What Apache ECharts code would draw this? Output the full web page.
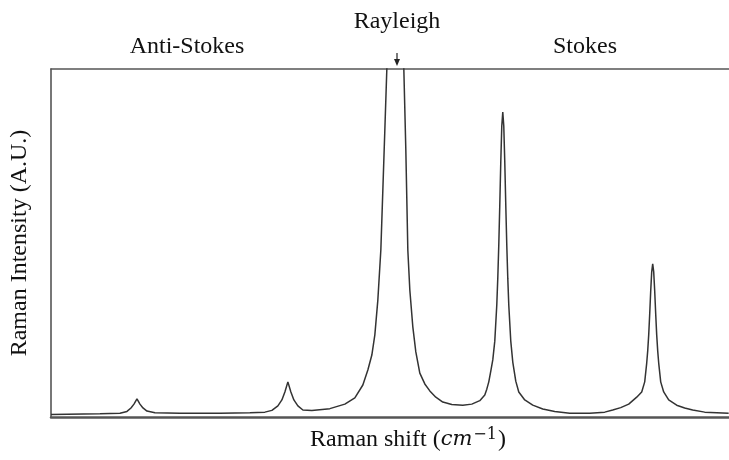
<!DOCTYPE html>
<html>
<head>
<meta charset="utf-8">
<script src="https://cdn.jsdelivr.net/npm/echarts@6/dist/echarts.min.js"></script>
<style>
  html, body { margin: 0; padding: 0; background: #fff; }
  #chart { width: 729px; height: 460px; }
</style>
</head>
<body>
<div id="chart"></div>
<script>
// Raman shift (cm^-1, Rayleigh line at 0) and intensity (arbitrary units) of the spectrum trace
const shift = [
  -1035, -888, -828, -807, -795, -786, -777, -768, -759, -747, -723, -648, -528, -438,
  -393, -372, -354, -342, -333, -324, -315, -306, -294, -279, -252, -198, -153, -123,
  -99, -84, -72, -63, -54, -45, -39, -33, -27, -3, 24, 30, 36, 42, 51, 60, 72, 87,
  102, 120, 141, 168, 201, 228, 252, 267, 273, 279, 285, 291, 297, 303, 306, 309, 312,
  315, 318, 321, 324, 327, 330, 333, 336, 339, 345, 351, 360, 369, 387, 411, 441, 477, 522,
  582, 627, 651, 675, 699, 723, 738, 747, 753, 756, 759, 762, 765, 768, 771,
  774, 777, 780, 783, 786, 789, 795, 804, 819, 843, 867, 891, 927, 999
];
const intensity = [
  0.7, 0.9, 1.1, 1.6, 2.6, 3.7, 5.2, 3.7, 2.6, 1.7, 1.2, 1.1, 1.1, 1.2,
  1.4, 1.9, 3.2, 4.9, 7.2, 10.1, 7.2, 4.9, 3.2, 2.0, 1.9, 2.4, 3.7, 5.5,
  9.2, 13.5, 17.8, 23.6, 33.6, 48.0, 65.2, 82.5, 100, 177.3, 100, 76.7, 48.0, 36.5, 25.9, 18.7, 12.6, 9.5,
  7.5, 5.7, 4.3, 3.6, 3.4, 3.7, 4.7, 6.3, 8.0, 10.1, 13.2, 16.4, 21.8, 32.2, 39.9, 49.4, 60.9,
  73.3, 83.6, 87.6, 83.6, 73.3, 60.9, 49.4, 39.9, 32.2, 21.8, 15.8, 10.3, 7.2, 4.9, 3.4, 2.3, 1.6, 1.1,
  1.1, 1.4, 2.0, 2.7, 3.7, 5.7, 7.2, 10.1, 15.5, 19.0, 23.6, 29.6, 36.2, 41.7, 44.0,
  41.7, 36.2, 29.6, 23.6, 19.0, 15.5, 10.1, 7.2, 4.9, 3.4, 2.6, 2.0, 1.4, 1.1
];

// Region labels above the plot
const regionLabels = ['Anti-Stokes', 'Rayleigh', 'Stokes'];
const xTitle = 'Raman shift (';
const yTitle = 'Raman Intensity (A.U.)';

const points = shift.map((s, i) => [s, intensity[i]]);

const chart = echarts.init(document.getElementById('chart'), null, { renderer: 'canvas' });
const serif = '"Liberation Serif", "Times New Roman", serif';
const mathFont = '"DejaVu Serif", serif';
const ink = '#333';
const frame = '#555';
const textColor = '#111';
const fontSize = 24;

chart.setOption({
  animation: false,
  backgroundColor: '#fff',
  grid: { left: 51, right: 0, top: 69, bottom: 43 },
  xAxis: [
    {
      type: 'value', min: -1035, max: 1000, position: 'bottom',
      axisLine: { show: true, onZero: false, lineStyle: { color: frame, width: 2.5 } },
      axisTick: { show: false }, axisLabel: { show: false }, splitLine: { show: false }
    },
    {
      type: 'value', min: -1035, max: 1000, position: 'top',
      axisLine: { show: true, onZero: false, lineStyle: { color: frame, width: 1.6 } },
      axisTick: { show: false }, axisLabel: { show: false }, splitLine: { show: false }
    }
  ],
  yAxis: {
    type: 'value', min: 0, max: 100, position: 'left',
    axisLine: { show: true, onZero: false, lineStyle: { color: frame, width: 1.6 } },
    axisTick: { show: false }, axisLabel: { show: false }, splitLine: { show: false }
  },
  series: [{
    type: 'line',
    xAxisIndex: 0,
    data: points,
    showSymbol: false,
    symbol: 'none',
    clip: true,
    lineStyle: { color: ink, width: 1.5 }
  }],
  graphic: [
    {
      type: 'text',
      style: {
        text: regionLabels[0], x: 187, y: 47, align: 'center', verticalAlign: 'middle',
        font: fontSize + 'px ' + serif, fill: textColor
      }
    },
    {
      type: 'text',
      style: {
        text: regionLabels[1], x: 397, y: 22, align: 'center', verticalAlign: 'middle',
        font: fontSize + 'px ' + serif, fill: textColor
      }
    },
    {
      type: 'text',
      style: {
        text: regionLabels[2], x: 585, y: 47, align: 'center', verticalAlign: 'middle',
        font: fontSize + 'px ' + serif, fill: textColor
      }
    },
    // arrow pointing at the Rayleigh line
    {
      type: 'line',
      shape: { x1: 397, y1: 53, x2: 397, y2: 60 },
      style: { stroke: '#222', lineWidth: 1.2 }
    },
    {
      type: 'polygon',
      shape: { points: [[394, 59], [400, 59], [397, 66]] },
      style: { fill: '#222' }
    },
    {
      type: 'text',
      style: {
        text: '{t|' + xTitle + '}{m|cm}{s|−1}{t|)}',
        x: 408, y: 440, align: 'center', verticalAlign: 'middle',
        rich: {
          t: { font: fontSize + 'px ' + serif, fill: textColor },
          m: { font: 'italic 21px ' + mathFont, fill: textColor },
          s: { font: '16px ' + mathFont, fill: textColor, padding: [0, 1, 10, 1] }
        }
      }
    },
    {
      type: 'text',
      rotation: Math.PI / 2,
      x: 20, y: 243,
      style: {
        text: yTitle, x: 0, y: 0, align: 'center', verticalAlign: 'middle',
        font: fontSize + 'px ' + serif, fill: textColor
      }
    }
  ]
});
</script>
</body>
</html>
